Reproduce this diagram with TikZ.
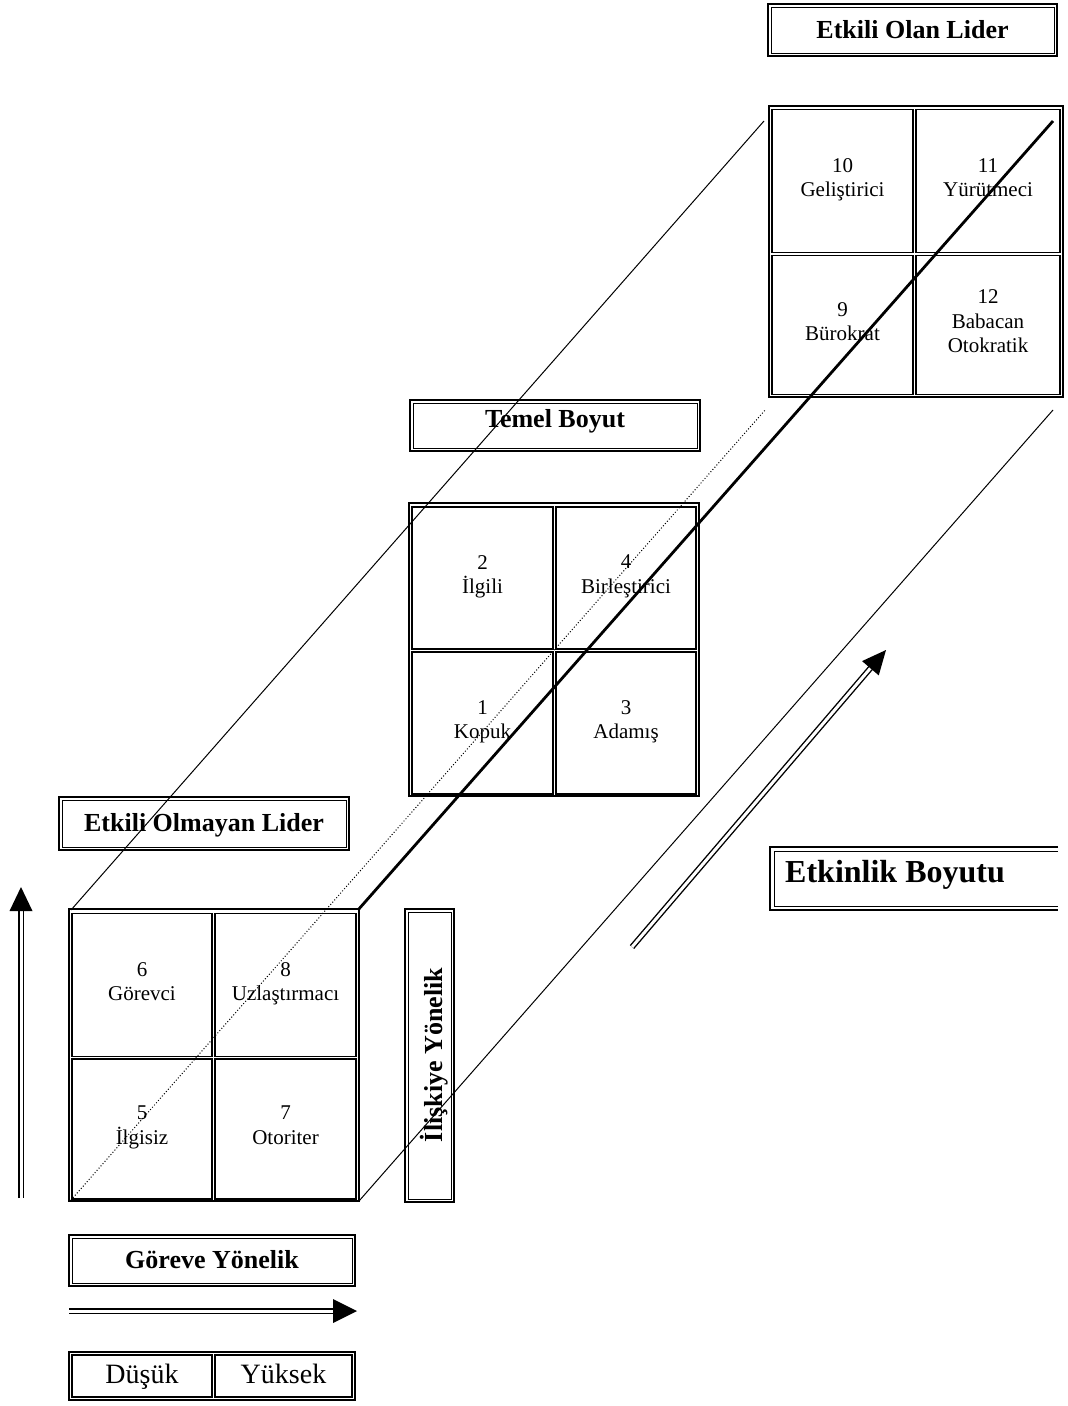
\documentclass[tikz,border=0pt]{standalone}
\usepackage{fontspec}
\setmainfont{Liberation Serif}
\usetikzlibrary{arrows.meta,calc}
% thin inner rule of a thick-thin double frame
\newcommand{\innerrule}[1]{\draw[line width=0.8pt] ([xshift=4pt,yshift=-4pt]#1.north west) rectangle ([xshift=-4pt,yshift=4pt]#1.south east);}
\begin{document}
\begin{tikzpicture}[x=1pt,y=-1pt,
  frame/.style={draw, line width=1.8pt, inner sep=0pt},
  cell/.style={draw, line width=1.2pt, inner sep=0pt, align=center,
    font=\fontsize{21}{24.5}\selectfont,
    execute at begin node=\rule{0pt}{23pt}, execute at end node=\strut},
  scalecell/.style={draw, line width=1.2pt, inner sep=0pt, text height=20pt, text depth=6pt,
    font=\fontsize{28}{32}\selectfont},
  lbl/.style={draw, line width=2.2pt, inner sep=0pt, text height=18pt, text depth=2pt,
    font=\bfseries\fontsize{26}{30}\selectfont},
  thinline/.style={line width=1pt},
  dbl/.style={double, line width=1.4pt, double distance=3pt},
]
\useasboundingbox (0,0) rectangle (1068,1406);

% ---- label boxes ----
\node[lbl, minimum width=289pt, minimum height=52pt] (effective) at (912.5,30) {Etkili Olan Lider};
\innerrule{effective}
\node[lbl, minimum width=290pt, minimum height=51pt, text depth=14pt] (basic) at (555,425.5) {Temel Boyut};
\innerrule{basic}
\node[lbl, minimum width=290pt, minimum height=53pt] (ineffective) at (204,823.5) {Etkili Olmayan Lider};
\innerrule{ineffective}
\node[lbl, minimum width=286pt, minimum height=51pt] (task) at (212,1260.5) {Göreve Yönelik};
\innerrule{task}
\node[lbl, minimum width=49pt, minimum height=293pt] (relation) at (429.5,1055.5) {};
\innerrule{relation}
\node[inner sep=0pt, rotate=90, text height=18pt, text depth=2pt,
  font=\bfseries\fontsize{26}{30}\selectfont] (relationtext) at (434.5,1055) {İlişkiye Yönelik};

% open box on the right
\draw[line width=2.2pt] (1058,847) -- (770,847) -- (770,910) -- (1058,910);
\draw[line width=0.8pt] (1058,851) -- (774,851) -- (774,906) -- (1058,906);
\node[anchor=west, inner sep=0pt, text height=22pt, text depth=0pt,
  font=\bfseries\fontsize{32}{36}\selectfont] (efficiency) at (785,871) {Etkinlik Boyutu};

% ---- front grid ----
\node[frame, minimum width=290pt, minimum height=292pt] (front) at (214,1055) {};
\node[cell, minimum width=140pt, minimum height=143pt] (c6) at (142,985) {6\\Görevci};
\node[cell, minimum width=141pt, minimum height=143pt] (c8) at (285.5,985) {8\\Uzlaştırmacı};
\node[cell, minimum width=140pt, minimum height=140pt] (c5) at (142,1129) {5\\İlgisiz};
\node[cell, minimum width=141pt, minimum height=140pt] (c7) at (285.5,1129) {7\\Otoriter};

% ---- middle grid ----
\node[frame, minimum width=290pt, minimum height=293pt] (middle) at (554,649.5) {};
\node[cell, minimum width=141pt, minimum height=142pt] (c2) at (482.5,578) {2\\İlgili};
\node[cell, minimum width=140pt, minimum height=142pt] (c4) at (626,578) {4\\Birleştirici};
\node[cell, minimum width=141pt, minimum height=142pt] (c1) at (482.5,723) {1\\Kopuk};
\node[cell, minimum width=140pt, minimum height=142pt] (c3) at (626,723) {3\\Adamış};

% ---- back grid ----
\node[frame, minimum width=294pt, minimum height=291pt] (back) at (916,251.5) {};
\node[cell, minimum width=141pt, minimum height=143pt] (c10) at (842.5,181) {10\\Geliştirici};
\node[cell, minimum width=144pt, minimum height=143pt] (c11) at (988,181) {11\\Yürütmeci};
\node[cell, minimum width=141pt, minimum height=139pt] (c9) at (842.5,325) {9\\Bürokrat};
\node[cell, minimum width=144pt, minimum height=139pt] (c12) at (988,325) {12\\Babacan\\Otokratik};

% ---- low / high scale ----
\node[frame, minimum width=286pt, minimum height=48pt] (scale) at (212,1376) {};
\node[scalecell, minimum width=140pt, minimum height=42pt] (low) at (142,1376) {Düşük};
\node[scalecell, minimum width=137pt, minimum height=42pt] (high) at (283.5,1376) {Yüksek};

% ---- receding edges of the box ----
\coordinate (fTL) at (71,910);
\coordinate (fTR) at (358,910);
\coordinate (fBL) at (71,1200);
\coordinate (fBR) at (359,1201);
\coordinate (bTL) at (764,121);
\coordinate (bTR) at (1053,121);
\coordinate (bBL) at (766,409);
\coordinate (bBR) at (1053,410);
\draw[thinline] (fTL) -- (bTL);
\draw[line width=2.8pt] (fTR) -- (bTR);
\draw[thinline] (fBR) -- (bBR);
\draw[line width=1pt, dash pattern=on 1pt off 2pt] (fBL) -- (bBL);

% ---- axis arrows ----
\coordinate (vtail) at (21,1198);
\coordinate (vtip) at (21,887);
\coordinate (htail) at (69,1311);
\coordinate (htip) at (357,1311);
\coordinate (dtail) at (632,947);
\coordinate (dtip) at (886,650);

\draw[dbl] (vtail) -- ($(vtip)!22pt!(vtail)$);
\coordinate (vb) at ($(vtip)!24pt!(vtail)$);
\fill (vtip) -- ($(vb)!11.5pt!90:(vtip)$) -- ($(vb)!11.5pt!-90:(vtip)$) -- cycle;

\draw[dbl] (htail) -- ($(htip)!22pt!(htail)$);
\coordinate (hb) at ($(htip)!24pt!(htail)$);
\fill (htip) -- ($(hb)!12pt!90:(htip)$) -- ($(hb)!12pt!-90:(htip)$) -- cycle;

\draw[dbl] (dtail) -- ($(dtip)!22pt!(dtail)$);
\coordinate (db) at ($(dtip)!24pt!(dtail)$);
\fill (dtip) -- ($(db)!11pt!90:(dtip)$) -- ($(db)!11pt!-90:(dtip)$) -- cycle;
\end{tikzpicture}
\end{document}
